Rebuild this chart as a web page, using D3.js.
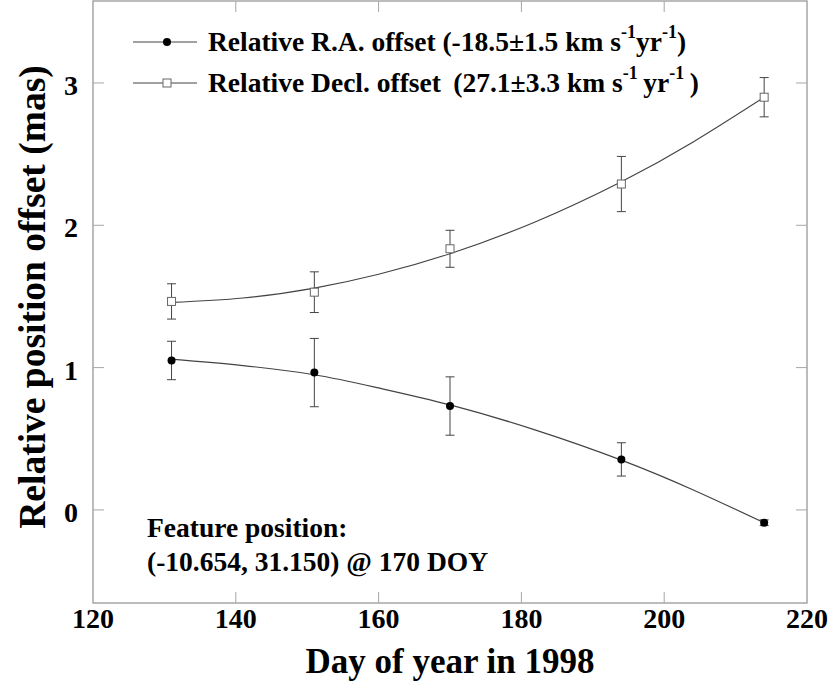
<!DOCTYPE html>
<html>
<head>
<meta charset="utf-8">
<script src="https://cdn.jsdelivr.net/npm/d3@7"></script>
<style>
  body { margin: 0; background: #fff; }
  text { font-family: "Liberation Serif", "Times New Roman", serif; font-weight: bold; fill: #000; }
</style>
</head>
<body>
<div id="chart"></div>
<script>
// observed days and offsets (mas)
const days = [131, 151, 170, 194, 214]
const raOffset = [1.05, 0.965, 0.73, 0.355, -0.09]
const raErr = [0.135, 0.24, 0.205, 0.117, 0.02]
const decOffset = [1.465, 1.53, 1.835, 2.29, 2.90]
const decErr = [0.124, 0.143, 0.13, 0.194, 0.138]

// fitted curves
const fitDays = [131, 141, 151, 160, 170, 182, 194, 204, 214]
const raFit = [1.059, 1.014, 0.95, 0.857, 0.738, 0.561, 0.35, 0.142, -0.09]
const decFit = [1.458, 1.489, 1.559, 1.656, 1.80, 2.025, 2.306, 2.584, 2.90]

const xTicks = [120, 140, 160, 180, 200, 220]
const yTicks = [0, 1, 2, 3]

const width = 830, height = 690
const margin = { top: 1, right: 23, bottom: 87, left: 93 }
const innerW = width - margin.left - margin.right
const innerH = height - margin.top - margin.bottom

const x = d3.scaleLinear().domain([120, 220]).range([0, innerW])
const y = d3.scaleLinear().domain([-0.654, 3.576]).range([innerH, 0])

const frameColor = '#a6a6a6'
const inkColor = '#444'

const svg = d3.select('#chart').append('svg')
  .attr('width', width)
  .attr('height', height)

const g = svg.append('g')
  .attr('transform', `translate(${margin.left},${margin.top})`)

//frame
g.append('rect')
  .attr('width', innerW)
  .attr('height', innerH)
  .attr('fill', 'none')
  .attr('stroke', frameColor)
  .attr('stroke-width', 1.5)

//inward ticks on all four sides
const tickLen = 11
const inner = xTicks.slice(1, -1)
g.selectAll('.xt-bottom').data(inner).join('line')
  .attr('class', 'xt-bottom')
  .attr('x1', d => x(d)).attr('x2', d => x(d))
  .attr('y1', innerH).attr('y2', innerH - tickLen)
  .attr('stroke', frameColor)
g.selectAll('.xt-top').data(inner).join('line')
  .attr('class', 'xt-top')
  .attr('x1', d => x(d)).attr('x2', d => x(d))
  .attr('y1', 0).attr('y2', tickLen)
  .attr('stroke', frameColor)
g.selectAll('.yt-left').data(yTicks).join('line')
  .attr('class', 'yt-left')
  .attr('x1', 0).attr('x2', tickLen)
  .attr('y1', d => y(d)).attr('y2', d => y(d))
  .attr('stroke', frameColor)
g.selectAll('.yt-right').data(yTicks).join('line')
  .attr('class', 'yt-right')
  .attr('x1', innerW).attr('x2', innerW - tickLen)
  .attr('y1', d => y(d)).attr('y2', d => y(d))
  .attr('stroke', frameColor)

//tick labels
g.selectAll('.xl').data(xTicks).join('text')
  .attr('class', 'xl')
  .attr('x', d => x(d))
  .attr('y', innerH + 25)
  .attr('text-anchor', 'middle')
  .style('font-size', '28px')
  .text(d => d)
g.selectAll('.yl').data(yTicks).join('text')
  .attr('class', 'yl')
  .attr('x', -15)
  .attr('y', d => y(d) + 12)
  .attr('text-anchor', 'end')
  .style('font-size', '28px')
  .text(d => d)

//axis titles
svg.append('text')
  .attr('x', margin.left + innerW / 2)
  .attr('y', 673)
  .attr('text-anchor', 'middle')
  .style('font-size', '35px')
  .text('Day of year in 1998')
svg.append('text')
  .attr('transform', `translate(45,297) rotate(-90)`)
  .attr('text-anchor', 'middle')
  .style('font-size', '37.5px')
  .text('Relative position offset (mas)')

//fitted curves
const line = d3.line().x(d => x(d[0])).y(d => y(d[1])).curve(d3.curveNatural)
const series = [
  { fit: raFit, values: raOffset, err: raErr, filled: true },
  { fit: decFit, values: decOffset, err: decErr, filled: false },
]

series.forEach(s => {
  g.append('path')
    .datum(fitDays.map((d, i) => [d, s.fit[i]]))
    .attr('d', line)
    .attr('fill', 'none')
    .attr('stroke', inkColor)
    .attr('stroke-width', 1.2)

  const pts = days.map((d, i) => ({ day: d, v: s.values[i], e: s.err[i] }))
  const bars = g.append('g')
  bars.selectAll('.eb').data(pts).join('line')
    .attr('class', 'eb')
    .attr('x1', d => x(d.day)).attr('x2', d => x(d.day))
    .attr('y1', d => y(d.v - d.e)).attr('y2', d => y(d.v + d.e))
    .attr('stroke', inkColor)
  ;['lo', 'hi'].forEach(k => {
    bars.selectAll('.cap-' + k).data(pts).join('line')
      .attr('class', 'cap-' + k)
      .attr('x1', d => x(d.day) - 4.5).attr('x2', d => x(d.day) + 4.5)
      .attr('y1', d => y(k === 'lo' ? d.v - d.e : d.v + d.e))
      .attr('y2', d => y(k === 'lo' ? d.v - d.e : d.v + d.e))
      .attr('stroke', inkColor)
  })

  if (s.filled) {
    g.selectAll('.dot').data(pts).join('circle')
      .attr('class', 'dot')
      .attr('cx', d => x(d.day))
      .attr('cy', d => y(d.v))
      .attr('r', 4)
      .attr('fill', '#000')
  } else {
    g.selectAll('.box').data(pts).join('rect')
      .attr('class', 'box')
      .attr('x', d => x(d.day) - 4)
      .attr('y', d => y(d.v) - 4)
      .attr('width', 8).attr('height', 8)
      .attr('fill', '#fff')
      .attr('stroke', '#666')
  }
})

//legend
const legend = svg.append('g')
const legendRows = [
  { y: 42, filled: true, parts: ['Relative R.A. offset (-18.5\u00b11.5 km s', '-1', 'yr', '-1', ')'] },
  { y: 83, filled: false, parts: ['Relative Decl. offset\u2009 (27.1\u00b13.3 km s', '-1', '\u2009yr', '-1', '\u2009)'] },
]
legendRows.forEach(r => {
  legend.append('line')
    .attr('x1', 133).attr('x2', 197)
    .attr('y1', r.y).attr('y2', r.y)
    .attr('stroke', inkColor)
  if (r.filled) {
    legend.append('circle').attr('cx', 167).attr('cy', r.y).attr('r', 4).attr('fill', '#000')
  } else {
    legend.append('rect').attr('x', 163).attr('y', r.y - 4).attr('width', 8).attr('height', 8)
      .attr('fill', '#fff').attr('stroke', '#666')
  }
  const t = legend.append('text')
    .attr('x', 208)
    .attr('y', r.y + 9)
    .style('font-size', '27.5px')
    .attr('xml:space', 'preserve')
  r.parts.forEach((p, i) => {
    const sup = i % 2 === 1
    t.append('tspan')
      .attr('dy', sup ? -13 : (i > 0 ? 13 : 0))
      .style('font-size', sup ? '18px' : '27.5px')
      .text(p)
  })
})

//feature position note
const note = svg.append('text')
  .style('font-size', '27.5px')
note.append('tspan').attr('x', 147).attr('y', 537).text('Feature position:')
note.append('tspan').attr('x', 147).attr('y', 571).text('(-10.654, 31.150) @ 170 DOY')
</script>
</body>
</html>
